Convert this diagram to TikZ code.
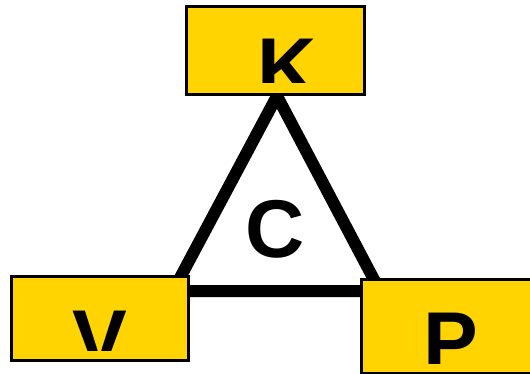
\documentclass[tikz,border=0pt]{standalone}
\usepackage{fontspec}
\setmainfont{Liberation Sans}
\definecolor{boxgold}{RGB}{255,212,0}

\begin{document}
\begin{tikzpicture}[
    x=1pt, y=-1pt, % pixel-like units, y grows downwards
    corner/.style={
        draw=black, % thin black frame
        line width=3pt,
        fill=boxgold, % yellow fill
        inner sep=0pt
    },
    letter/.style={
        inner sep=0pt,
        anchor=base, % place letters on their baseline
        font=\bfseries\fontsize{82}{82}\selectfont % big bold sans letters
    },
    side/.style={line width=12pt, line join=miter} % heavy triangle sides
]
\useasboundingbox (0,0) rectangle (530,374);

% triangle behind the boxes
\coordinate (top) at (277,96);
\coordinate (left) at (173,291);
\coordinate (right) at (380,291);
\draw[side] (left) -- (top) -- (right) -- cycle;

\node[letter] (c) at (275,257) {C};

% the three boxes
\begin{scope}
    \clip (0,0) rectangle (530,374);
    \node[corner, minimum width=178pt, minimum height=88pt] (kbox) at (275.5,50.5) {};
    \node[corner, minimum width=177pt, minimum height=84pt] (vbox) at (100,318.5) {};
    \node[corner, minimum width=178.5pt, minimum height=93.5pt] (pbox) at (450.75,326.25) {};
\end{scope}

% letters, cut off at the bottom as in the boxes
\begin{scope}
    \clip (187,7) rectangle (364,83);
    \node[letter] (k) at (287,96) {K};
\end{scope}
\begin{scope}
    \clip (12,277) rectangle (188,350);
    \node[letter] (v) at (100,367) {V};
\end{scope}
\begin{scope}
    \clip (362,280) rectangle (530,363);
    \node[letter] (p) at (451,369) {P};
\end{scope}
\end{tikzpicture}
\end{document}
